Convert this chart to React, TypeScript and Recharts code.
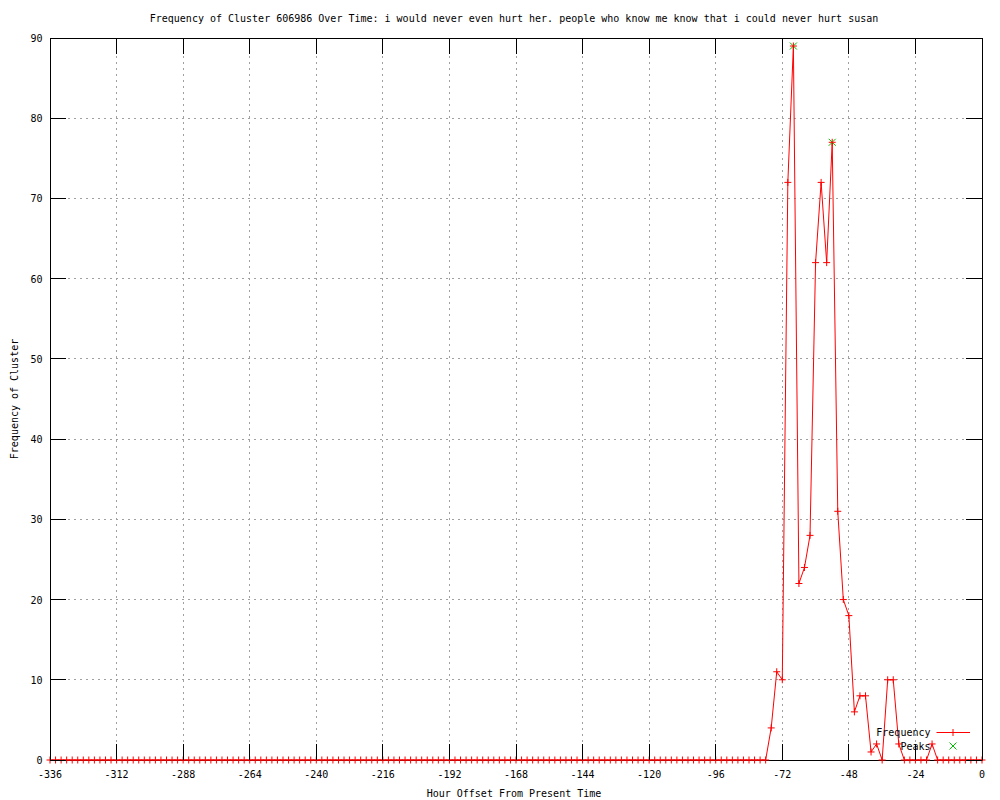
import React from 'react';
import { ComposedChart, Line, Scatter, XAxis, YAxis, CartesianGrid, ReferenceArea, Legend } from 'recharts';

const FONT = '"DejaVu Sans Mono", "Liberation Mono", monospace';

const START_HOUR = -336;
const STEP_HOURS = 2;

// cluster frequency per 2 hour bin, oldest first (-336 ... 0)
const frequency = [
  0, 0, 0, 0, 0, 0, 0, 0, 0, 0,
  0, 0, 0, 0, 0, 0, 0, 0, 0, 0,
  0, 0, 0, 0, 0, 0, 0, 0, 0, 0,
  0, 0, 0, 0, 0, 0, 0, 0, 0, 0,
  0, 0, 0, 0, 0, 0, 0, 0, 0, 0,
  0, 0, 0, 0, 0, 0, 0, 0, 0, 0,
  0, 0, 0, 0, 0, 0, 0, 0, 0, 0,
  0, 0, 0, 0, 0, 0, 0, 0, 0, 0,
  0, 0, 0, 0, 0, 0, 0, 0, 0, 0,
  0, 0, 0, 0, 0, 0, 0, 0, 0, 0,
  0, 0, 0, 0, 0, 0, 0, 0, 0, 0,
  0, 0, 0, 0, 0, 0, 0, 0, 0, 0,
  0, 0, 0, 0, 0, 0, 0, 0, 0, 0,
  // -76 .. -58
  4, 11, 10, 72, 89, 22, 24, 28, 62, 72,
  // -56 .. -38
  62, 77, 31, 20, 18, 6, 8, 8, 1, 2,
  // -36 .. -18
  0, 10, 10, 2, 0, 0, 0, 0, 0, 2,
  // -16 .. 0
  0, 0, 0, 0, 0, 0, 0, 0, 0,
];

const peakHours = [-68, -54];
const peakValues = [89, 77];

const xTicks = [-336, -312, -288, -264, -240, -216, -192, -168, -144, -120, -96, -72, -48, -24, 0];
const yTicks = [0, 10, 20, 30, 40, 50, 60, 70, 80, 90];

const rows = frequency.map((f, i) => ({ hour: START_HOUR + i * STEP_HOURS, freq: f }));
const peakRows = peakHours.map((h, i) => ({ hour: h, peak: peakValues[i] }));

const PLOT_TOP = 38;
const PLOT_RIGHT = 982;
const TICK_LEN = 16;

function XTick({ x, y, payload }: any) {
  return (
    <g shapeRendering="crispEdges">
      <line x1={x} x2={x} y1={y} y2={y - TICK_LEN} stroke="#000" />
      <line x1={x} x2={x} y1={PLOT_TOP} y2={PLOT_TOP + TICK_LEN} stroke="#000" />
      <text x={x} y={y + 18} textAnchor="middle" fontFamily={FONT} fontSize={10} fill="#000">
        {payload.value}
      </text>
    </g>
  );
}

function YTick({ x, y, payload }: any) {
  return (
    <g shapeRendering="crispEdges">
      <line x1={x} x2={x + TICK_LEN} y1={y} y2={y} stroke="#000" />
      <line x1={PLOT_RIGHT} x2={PLOT_RIGHT - TICK_LEN} y1={y} y2={y} stroke="#000" />
      <text x={x - 7.5} y={y + 4} textAnchor="end" fontFamily={FONT} fontSize={10} fill="#000">
        {payload.value}
      </text>
    </g>
  );
}

function plus(cx: number, cy: number, color: string, key?: any) {
  const r = 3.5;
  return (
    <g key={key}>
      <line x1={cx - r} x2={cx + r} y1={cy} y2={cy} stroke={color} />
      <line x1={cx} x2={cx} y1={cy - r} y2={cy + r} stroke={color} />
    </g>
  );
}

function cross(cx: number, cy: number, color: string, key?: any) {
  const r = 3.5;
  return (
    <g key={key}>
      <line x1={cx - r} x2={cx + r} y1={cy - r} y2={cy + r} stroke={color} />
      <line x1={cx - r} x2={cx + r} y1={cy + r} y2={cy - r} stroke={color} />
    </g>
  );
}

function LegendBox() {
  return (
    <svg width={140} height={36} style={{ display: 'block', overflow: 'visible' }}>
      <text x={80.5} y={15.5} textAnchor="end" fontFamily={FONT} fontSize={10} fill="#000">Frequency</text>
      <line x1={86.5} x2={120} y1={12.5} y2={12.5} stroke="#ff0000" />
      {plus(103, 12.5, '#ff0000')}
      <text x={80.5} y={29.5} textAnchor="end" fontFamily={FONT} fontSize={10} fill="#000">Peaks</text>
      {cross(103, 26, '#00c000')}
    </svg>
  );
}

export default function App() {
  return (
    <div style={{ position: 'absolute', left: 0, top: 0, width: 1000, height: 800, background: '#fff' }}>
      <ComposedChart width={1000} height={800} data={rows} margin={{ top: 38, right: 18, bottom: 0, left: 0 }}>
        <CartesianGrid stroke="#a0a0a0" strokeDasharray="2 4" shapeRendering="crispEdges" />
        <XAxis
          dataKey="hour"
          type="number"
          domain={[-336, 0]}
          ticks={xTicks}
          interval={0}
          height={40}
          axisLine={false}
          tickLine={false}
          tickSize={0}
          tickMargin={0}
          tick={(p: any) => <XTick {...p} />}
        />
        <YAxis
          type="number"
          domain={[0, 90]}
          ticks={yTicks}
          interval={0}
          width={50}
          axisLine={false}
          tickLine={false}
          tickSize={0}
          tickMargin={0}
          tick={(p: any) => <YTick {...p} />}
        />
        <ReferenceArea x1={-336} x2={0} y1={0} y2={90} fill="none" stroke="#000" strokeWidth={1} shapeRendering="crispEdges" />
        <Line
          dataKey="freq"
          type="linear"
          stroke="#ff0000"
          strokeWidth={1}
          isAnimationActive={false}
          activeDot={false}
          dot={(p: any) => plus(p.cx, p.cy, '#ff0000', `d${p.index}`)}
        />
        <Scatter
          data={peakRows}
          dataKey="peak"
          isAnimationActive={false}
          shape={(p: any) => cross(p.cx, p.cy, '#00c000')}
        />
        <Legend
          layout="vertical"
          align="center"
          verticalAlign="middle"
          wrapperStyle={{ left: 850, top: 720, width: 140, height: 36 }}
          content={() => <LegendBox />}
        />
      </ComposedChart>
      <svg width={1000} height={800} style={{ position: 'absolute', left: 0, top: 0, pointerEvents: 'none' }}>
        <text x={514} y={22} textAnchor="middle" fontFamily={FONT} fontSize={10} fill="#000">
          Frequency of Cluster 606986 Over Time: i would never even hurt her. people who know me know that i could never hurt susan
        </text>
        <text x={514} y={797} textAnchor="middle" fontFamily={FONT} fontSize={10} fill="#000">
          Hour Offset From Present Time
        </text>
        <text x={17.5} y={399} textAnchor="middle" fontFamily={FONT} fontSize={10} fill="#000" transform="rotate(-90 17.5 399)">
          Frequency of Cluster
        </text>
      </svg>
    </div>
  );
}
